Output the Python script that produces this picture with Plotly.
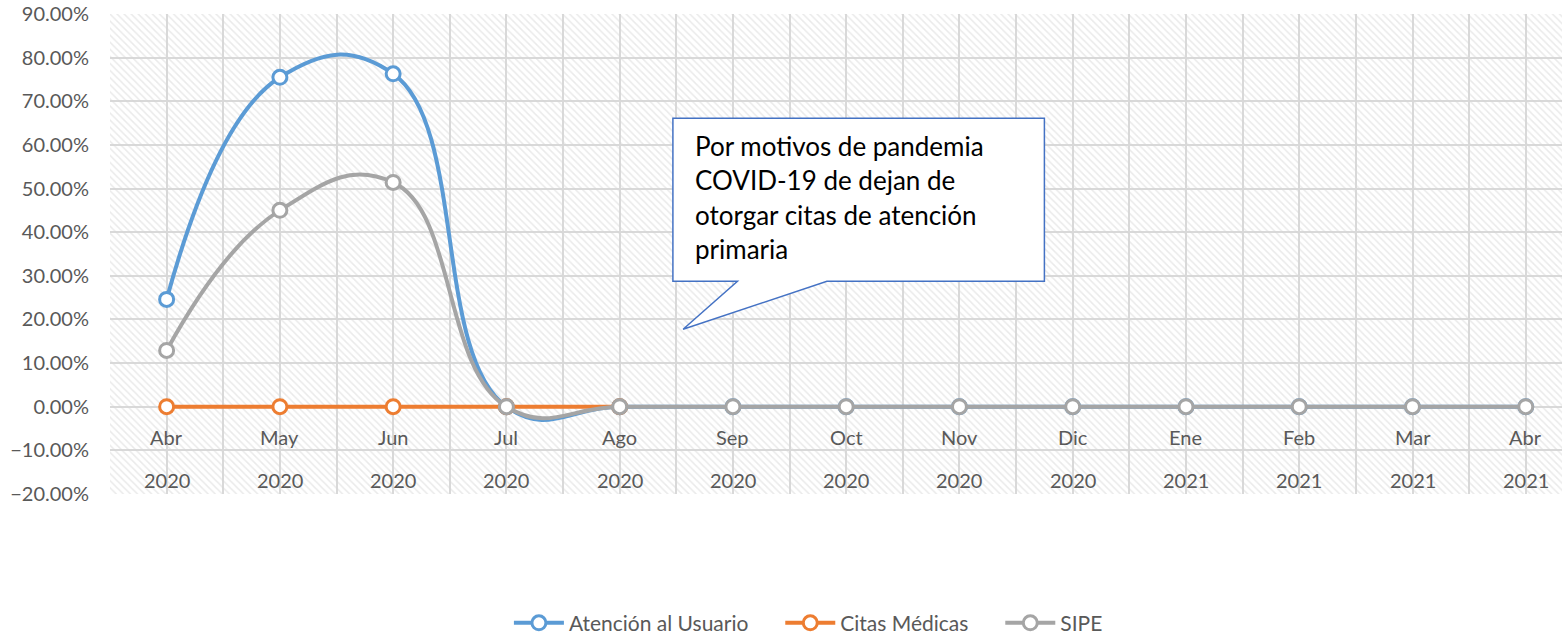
import plotly.graph_objects as go

months = ["Abr", "May", "Jun", "Jul", "Ago", "Sep", "Oct", "Nov", "Dic", "Ene", "Feb", "Mar", "Abr"]
years = ["2020"] * 9 + ["2021"] * 4
atencion = [0.246, 0.755, 0.763, 0.0, 0.0, 0.0, 0.0, 0.0, 0.0, 0.0, 0.0, 0.0, 0.0]
citas = [0.0, 0.0, 0.0, 0.0, 0.0, None, None, None, None, None, None, None, None]
sipe = [0.129, 0.450, 0.514, 0.0, 0.0, 0.0, 0.0, 0.0, 0.0, 0.0, 0.0, 0.0, 0.0]

callout_lines = ["Por motivos de pandemia", "COVID-19 de dejan de",
                 "otorgar citas de atención", "primaria"]

FONT = "Lato"
TXT = "#595959"
GRID = "#d9d9d9"
PAD = "\u00a0" * 5

x = list(range(len(months)))
y_min, y_max = -0.2, 0.9
x_min, x_max = -0.5, 12.32

fig = go.Figure()

# hatched plot-area background
fig.add_trace(go.Scatter(
    x=[x_min, x_max, x_max, x_min, x_min],
    y=[y_min, y_min, y_max, y_max, y_min],
    mode="none", fill="toself",
    fillcolor="rgba(255,255,255,0)",
    fillpattern=dict(shape="\\", fgcolor="#d6d6d6", bgcolor="rgba(255,255,255,0)",
                     size=5, solidity=0.3, fillmode="overlay"),
    hoverinfo="skip", showlegend=False,
))

series = [
    ("Atención al Usuario" + PAD, atencion, "#5b9bd5"),
    ("Citas Médicas" + PAD, citas, "#ed7d31"),
    ("SIPE", sipe, "#a5a5a5"),
]
for name, vals, col in series:
    fig.add_trace(go.Scatter(
        x=x, y=vals, name=name, mode="lines+markers",
        line=dict(color=col, width=4, shape="spline", smoothing=1.3),
        marker=dict(symbol="circle", size=14, color="white", line=dict(color=col, width=3)),
        connectgaps=False,
    ))

annotations = []
for i, (m, yv) in enumerate(zip(months, years)):
    annotations.append(dict(x=i, y=-0.07, xref="x", yref="y", text=m, showarrow=False,
                            font=dict(family=FONT, size=20, color=TXT)))
    annotations.append(dict(x=i, y=-0.169, xref="x", yref="y", text=yv, showarrow=False,
                            font=dict(family=FONT, size=20, color=TXT)))

# callout box
bx1, bx2, byt, byb = 4.47, 7.75, 0.661, 0.2876
px1, px2, tx, ty = 5.04, 5.83, 4.56, 0.1775
path = (f"M {bx1},{byt} L {bx2},{byt} L {bx2},{byb} L {px2},{byb} "
        f"L {tx},{ty} L {px1},{byb} L {bx1},{byb} Z")
shapes = [dict(type="path", path=path, xref="x", yref="y",
               line=dict(color="#4472c4", width=1.5), fillcolor="white", layer="above")]
line_y = [0.598, 0.519, 0.440, 0.361]
for txt, ly in zip(callout_lines, line_y):
    annotations.append(dict(x=4.648, y=ly, xref="x", yref="y", text=txt,
                            showarrow=False, xanchor="left", yanchor="middle", align="left",
                            font=dict(family=FONT, size=26, color="black")))

fig.update_layout(
    width=1562, height=635,
    margin=dict(l=110, r=0, t=14, b=141, autoexpand=False),
    paper_bgcolor="white", plot_bgcolor="white",
    font=dict(family=FONT, color=TXT),
    xaxis=dict(range=[x_min, x_max], tickmode="linear", tick0=-0.5, dtick=0.5,
               showticklabels=False, showgrid=True, gridcolor=GRID, gridwidth=1.5,
               zeroline=False, showline=False, ticks="", automargin=False),
    yaxis=dict(range=[y_min, y_max], tickmode="linear", tick0=-0.2, dtick=0.1,
               tickformat=".2%", showgrid=True, gridcolor=GRID, gridwidth=1.5,
               zeroline=False, showline=False, ticks="", ticklabelstandoff=20,
               automargin=False, ticklabeloverflow="allow",
               tickfont=dict(family=FONT, size=20, color=TXT)),
    legend=dict(orientation="h", x=0.481, xanchor="center", y=-0.269, yanchor="middle",
                font=dict(family=FONT, size=21, color=TXT), traceorder="normal",
                itemwidth=50),
    shapes=shapes,
    annotations=annotations,
)

fig.write_html("out.html",
               config={"displayModeBar": False},
               post_script="document.body.style.margin='0';document.body.style.overflow='hidden';")
